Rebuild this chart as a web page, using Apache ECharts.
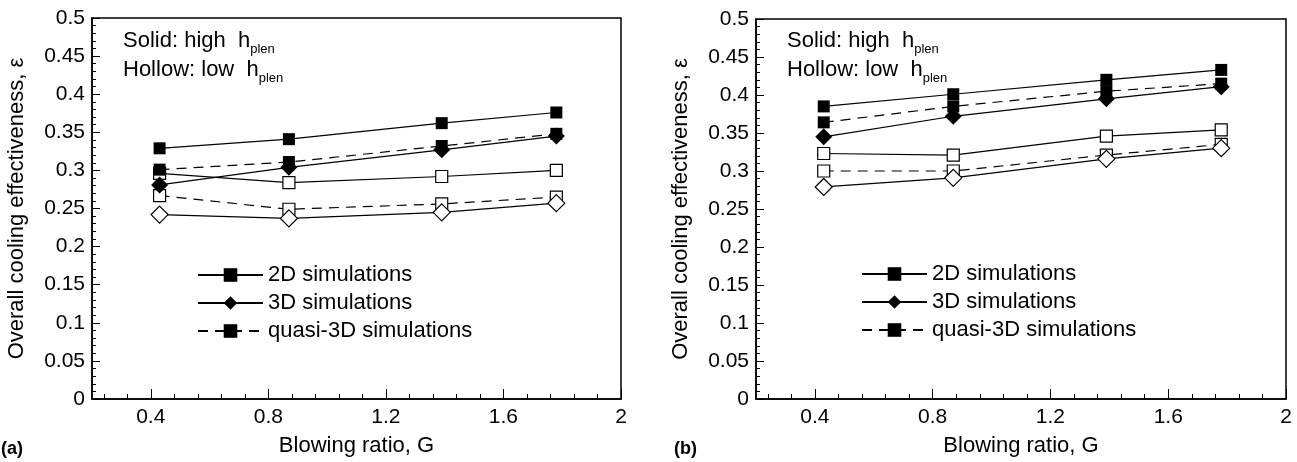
<!DOCTYPE html>
<html><head><meta charset="utf-8">
<script src="https://cdn.jsdelivr.net/npm/echarts/dist/echarts.min.js"></script>
<style>html,body{margin:0;padding:0;background:#fff}#c{width:1297px;height:462px}</style>
</head><body><div id="c"></div>
<script>
// Blowing ratio values (x)
const G = [0.43, 0.87, 1.39, 1.78];
// Panel (a)
const a2DHigh = [0.329, 0.341, 0.362, 0.376];
const a3DHigh = [0.281, 0.304, 0.327, 0.345];
const aQ3DHigh = [0.301, 0.311, 0.332, 0.348];
const a2DLow = [0.296, 0.284, 0.292, 0.300];
const a3DLow = [0.242, 0.237, 0.245, 0.257];
const aQ3DLow = [0.267, 0.249, 0.256, 0.265];
// Panel (b)
const b2DHigh = [0.385, 0.401, 0.420, 0.433];
const b3DHigh = [0.345, 0.372, 0.395, 0.411];
const bQ3DHigh = [0.364, 0.385, 0.405, 0.415];
const b2DLow = [0.323, 0.321, 0.346, 0.354];
const b3DLow = [0.279, 0.291, 0.316, 0.330];
const bQ3DLow = [0.300, 0.300, 0.321, 0.335];
// Tick labels
const xTickLabels = [0.4, 0.8, 1.2, 1.6, 2];
const legendNames = ['2D simulations', '3D simulations', 'quasi-3D simulations'];
const xTitle = 'Blowing ratio, G';
const yTitle = 'Overall cooling effectiveness, \u03b5';

// minor x ticks every 0.08 between 0.2 and 2 (excluding the major ones)
const xMinor = [];
for (let k = 3; k <= 24; k++) { if (k % 5 !== 0) xMinor.push(+(k * 0.08).toFixed(2)); }

const FF = 'Liberation Sans, Arial, Helvetica, sans-serif';
const chart = echarts.init(document.getElementById('c'));

function xAxes(gi) {
  return [{
    gridIndex: gi, type: 'value', min: 0.2, max: 2, position: 'bottom',
    axisLine: {show: true, onZero: false, lineStyle: {color: '#000', width: 1.5}},
    axisTick: {show: true, inside: true, length: 10, customValues: xTickLabels, lineStyle: {color: '#000', width: 1}},
    splitLine: {show: false},
    axisLabel: {color: '#000', fontSize: 21, fontFamily: FF, margin: 8, customValues: xTickLabels,
      formatter: v => String(+(+v).toFixed(1))},
    name: xTitle, nameLocation: 'middle', nameGap: 36,
    nameTextStyle: {color: '#000', fontSize: 22, fontFamily: FF}
  }, {
    gridIndex: gi, type: 'value', min: 0.2, max: 2, position: 'bottom',
    axisLine: {show: false, onZero: false},
    axisTick: {show: true, inside: true, length: 5, customValues: xMinor, lineStyle: {color: '#000', width: 1}},
    splitLine: {show: false}, axisLabel: {show: false}
  }];
}
function yAxis(gi) {
  return {
    gridIndex: gi, type: 'value', min: 0, max: 0.5, interval: 0.05,
    axisLine: {show: true, onZero: false, lineStyle: {color: '#000', width: 1.5}},
    axisTick: {show: true, inside: true, length: 8, lineStyle: {color: '#000', width: 1}},
    minorTick: {show: true, splitNumber: 5, length: 4, lineStyle: {color: '#000', width: 1}},
    splitLine: {show: false}, minorSplitLine: {show: false},
    axisLabel: {color: '#000', fontSize: 21, fontFamily: FF, margin: 7,
      formatter: v => String(+(+v).toFixed(2))},
    name: yTitle, nameLocation: 'middle', nameGap: 64, nameRotate: 90,
    nameTextStyle: {color: '#000', fontSize: 22, fontFamily: FF}
  };
}
function ser(name, vals, xi, yi, symbol, size, dashed, filled) {
  return {
    type: 'line', name: name, xAxisIndex: xi, yAxisIndex: yi,
    data: G.map((g, i) => [g, vals[i]]),
    symbol: symbol, symbolSize: size, showSymbol: true,
    lineStyle: {color: '#000', width: 1.2, type: dashed ? [10, 7] : 'solid'},
    itemStyle: {color: filled ? '#000' : '#fff', borderColor: '#000', borderWidth: filled ? 0 : 1.2},
    emphasis: {disabled: true}, animation: false
  };
}
function panel(xi, yi, d) {
  return [
    ser('2D low', d[3], xi, yi, 'rect', 12, false, false),
    ser('quasi low', d[5], xi, yi, 'rect', 12, true, false),
    ser('3D low', d[4], xi, yi, 'diamond', 17, false, false),
    ser(legendNames[2], d[2], xi, yi, 'rect', 12, true, true),
    ser(legendNames[1], d[1], xi, yi, 'diamond', 17, false, true),
    ser(legendNames[0], d[0], xi, yi, 'rect', 12, false, true)
  ];
}
function legend(left, top) {
  return {
    data: legendNames, orient: 'vertical', left: left, top: top, padding: 0,
    itemWidth: 65, itemHeight: 17, itemGap: 6, selectedMode: false,
    textStyle: {color: '#000', fontSize: 22, fontFamily: FF}
  };
}
function note(left, top, a, b) {
  const rich = {
    m: {fontSize: 22, fontFamily: FF, color: '#000', lineHeight: 30},
    s: {fontSize: 13, fontFamily: FF, color: '#000', lineHeight: 30, verticalAlign: 'bottom'}
  };
  return [
    {type: 'text', left: left, top: top, style: {text: '{m|' + a + '}{s|plen}', rich: rich}},
    {type: 'text', left: left, top: top + 29, style: {text: '{m|' + b + '}{s|plen}', rich: rich}}
  ];
}

chart.setOption({
  animation: false,
  backgroundColor: '#fff',
  grid: [
    {left: 92, top: 18, width: 529, height: 385, show: true, borderColor: '#000', borderWidth: 1.5, backgroundColor: 'transparent'},
    {left: 756, top: 19, width: 530, height: 383, show: true, borderColor: '#000', borderWidth: 1.5, backgroundColor: 'transparent'}
  ],
  xAxis: [...xAxes(0), ...xAxes(1)],
  yAxis: [yAxis(0), yAxis(1)],
  legend: [legend(197, 264), legend(861, 263)],
  series: [
    ...panel(0, 0, [a2DHigh, a3DHigh, aQ3DHigh, a2DLow, a3DLow, aQ3DLow]),
    ...panel(2, 1, [b2DHigh, b3DHigh, bQ3DHigh, b2DLow, b3DLow, bQ3DLow])
  ],
  graphic: [
    ...note(123, 30, 'Solid: high  h', 'Hollow: low  h'),
    ...note(787, 30, 'Solid: high  h', 'Hollow: low  h'),
    {type: 'text', left: 1, top: 440, style: {text: '(a)', fontSize: 18, fontWeight: 'bold', fontFamily: FF, fill: '#000'}},
    {type: 'text', left: 674, top: 440, style: {text: '(b)', fontSize: 18, fontWeight: 'bold', fontFamily: FF, fill: '#000'}}
  ]
});
</script></body></html>
